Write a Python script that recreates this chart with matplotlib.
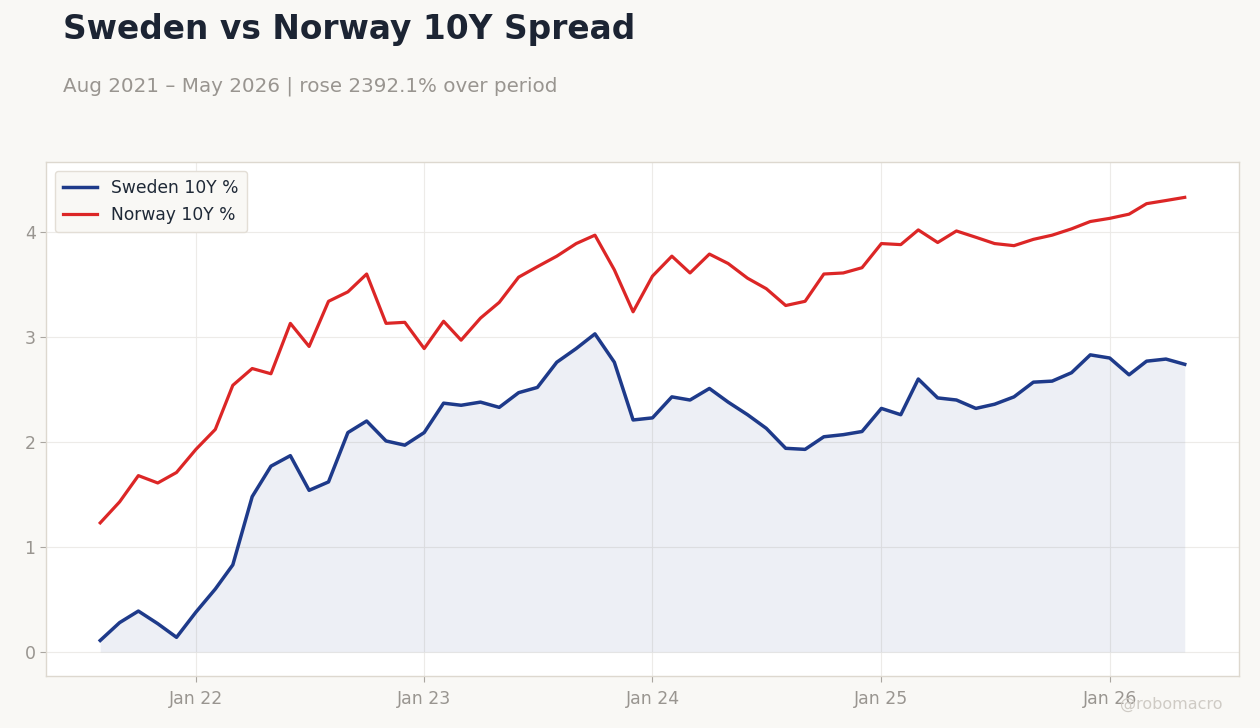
import matplotlib
matplotlib.use("Agg")
import matplotlib.pyplot as plt
import matplotlib.dates as mdates
import pandas as pd

dates = pd.date_range("2021-08-01", "2026-05-01", freq="MS")

sweden = [0.11, 0.28, 0.39, 0.27, 0.14, 0.38, 0.60, 0.83, 1.48, 1.77,
          1.87, 1.54, 1.62, 2.09, 2.20, 2.01, 1.97, 2.09, 2.37, 2.35,
          2.38, 2.33, 2.47, 2.52, 2.76, 2.89, 3.03, 2.76, 2.21, 2.23,
          2.43, 2.40, 2.51, 2.38, 2.26, 2.13, 1.94, 1.93, 2.05, 2.07,
          2.10, 2.32, 2.26, 2.60, 2.42, 2.40, 2.32, 2.36, 2.43, 2.57,
          2.58, 2.66, 2.83, 2.80, 2.64, 2.77, 2.79, 2.74]

norway = [1.23, 1.43, 1.68, 1.61, 1.71, 1.93, 2.12, 2.54, 2.70, 2.65,
          3.13, 2.91, 3.34, 3.43, 3.60, 3.13, 3.14, 2.89, 3.15, 2.97,
          3.18, 3.33, 3.57, 3.67, 3.77, 3.89, 3.97, 3.64, 3.24, 3.58,
          3.77, 3.61, 3.79, 3.70, 3.56, 3.46, 3.30, 3.34, 3.60, 3.61,
          3.66, 3.89, 3.88, 4.02, 3.90, 4.01, 3.95, 3.89, 3.87, 3.93,
          3.97, 4.03, 4.10, 4.13, 4.17, 4.27, 4.30, 4.33]

labels = ["Sweden 10Y %", "Norway 10Y %"]
title = "Sweden vs Norway 10Y Spread"
subtitle = "Aug 2021 \u2013 May 2026 | rose 2392.1% over period"

BG = "#f9f8f5"
NAVY = "#1e3a8a"
RED = "#dc2626"
GREY = "#999590"

fig = plt.figure(figsize=(12.6, 7.28), dpi=100, facecolor=BG)
ax = fig.add_axes([0.0365, 0.0714, 0.9468, 0.7061])
ax.set_facecolor("white")

ax.fill_between(dates, sweden, 0, color=NAVY, alpha=0.08, linewidth=0)
ax.plot(dates, sweden, color=NAVY, lw=2.5, label=labels[0], zorder=3)
ax.plot(dates, norway, color=RED, lw=2.3, label=labels[1], zorder=3)

ax.set_ylim(-0.2286, 4.667)
ax.set_yticks([0, 1, 2, 3, 4])
ax.xaxis.set_major_locator(mdates.YearLocator(month=1))
ax.xaxis.set_major_formatter(mdates.DateFormatter("Jan %y"))
ax.margins(x=0.05)

ax.grid(True, color="#ebe9e6", lw=0.8, alpha=0.9)
ax.set_axisbelow(True)
for s in ax.spines.values():
    s.set_color("#ddd8cf")
    s.set_linewidth(1.0)
ax.tick_params(axis="both", colors="#aaa6a0", labelcolor=GREY, labelsize=12.5, length=4)
ax.tick_params(axis="x", pad=6)

leg = ax.legend(loc="upper left", fontsize=12.3, frameon=True, facecolor=BG,
                edgecolor="#e3ded6", framealpha=1, borderpad=0.5, handlelength=2.0)
for t in leg.get_texts():
    t.set_color("#1f2937")

fig.text(0.05, 0.982, title, fontsize=23.7, fontweight="bold", color="#1c2433", va="top", ha="left")
fig.text(0.05, 0.882, subtitle, fontsize=14.3, color=GREY, va="center", ha="left")
fig.text(0.97, 0.032, "@robomacro", fontsize=11.5, color="#cfcbc5", ha="right", va="center")

fig.savefig("out.png", dpi=100, facecolor=BG)
